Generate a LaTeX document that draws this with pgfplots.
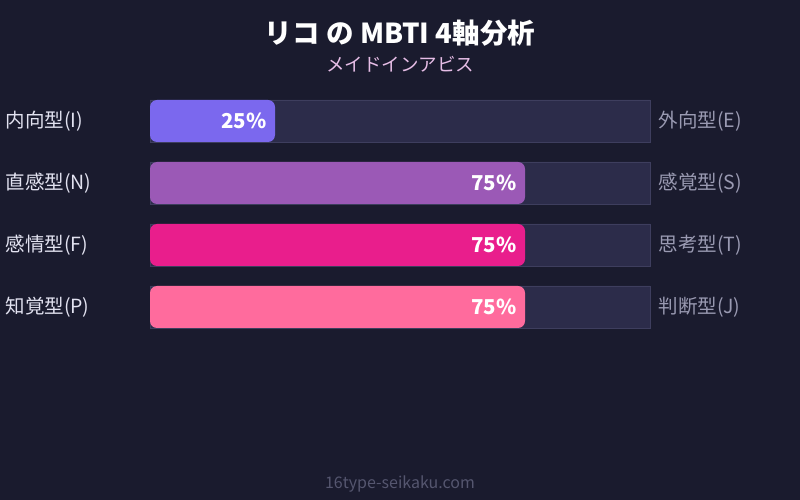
\documentclass[border=0pt]{standalone}
\usepackage{fontspec}
\setmainfont{Noto Sans CJK JP}
\usepackage{pgfplots}
\pgfplotsset{compat=1.18}

\definecolor{bg}{HTML}{1A1B2E}
\definecolor{track}{HTML}{2C2C4A}
\definecolor{trackline}{HTML}{3E3E5E}
\definecolor{cIE}{HTML}{7B68EE}
\definecolor{cNS}{HTML}{9B59B6}
\definecolor{cFT}{HTML}{E91E8C}
\definecolor{cPJ}{HTML}{FF6B9D}
\definecolor{lefttxt}{HTML}{E2E2F0}
\definecolor{righttxt}{HTML}{9A9AB2}
\definecolor{subtxt}{HTML}{E6BDE6}
\definecolor{foot}{HTML}{55566F}

\pgfplotsset{
  valbar/.style={bar shift=0pt, fill=#1, draw=none, rounded corners=7pt,
    point meta=x,
    nodes near coords={\pgfmathprintnumber[assume math mode=true]{\pgfplotspointmeta}\%},
    every node near coord/.append style={anchor=east, xshift=-5pt,
        text=white, font=\bfseries\fontsize{20.5}{22}\selectfont}},
}
\tikzset{
  pole/.style={anchor=west, text=righttxt, xshift=5pt,
    font=\fontsize{19.5}{21}\selectfont},
}

\begin{document}
\begin{tikzpicture}
% background, 800 x 500
\fill[bg] (0pt,0pt) rectangle (800pt,500pt);

% titles and footer
\node[text=white, font=\bfseries\fontsize{27.5}{30}\selectfont] at (400pt,467pt) {リコ の MBTI 4軸分析};
\node[text=subtxt, font=\fontsize{18.5}{21}\selectfont] at (400pt,436pt) {メイドインアビス};
\node[text=foot, font=\fontsize{16}{18}\selectfont] at (400pt,16pt) {16type-seikaku.com};

\begin{axis}[
    at={(150pt,162pt)}, anchor=south west,
    scale only axis, width=500pt, height=248pt,
    xbar, bar width=42pt,
    xmin=0, xmax=100, ymin=-0.5, ymax=3.5,
    y dir=reverse,
    axis line style={draw=none},
    major tick length=0pt,
    xtick=\empty,
    ytick={0,1,2,3},
    yticklabels={内向型(I),直感型(N),感情型(F),知覚型(P)},
    yticklabel style={anchor=west, xshift=-148pt, text=lefttxt,
        font=\fontsize{19.5}{21}\selectfont},
    clip=false,
]
% tracks
\addplot[bar shift=0pt, fill=track, draw=trackline, line width=0.8pt]
  coordinates {(100,0) (100,1) (100,2) (100,3)};
% values
\addplot[valbar=cIE] coordinates {(25,0)};
\addplot[valbar=cNS] coordinates {(75,1)};
\addplot[valbar=cFT] coordinates {(75,2)};
\addplot[valbar=cPJ] coordinates {(75,3)};

% opposite poles
\node[pole] at (axis cs:100,0) {外向型(E)};
\node[pole] at (axis cs:100,1) {感覚型(S)};
\node[pole] at (axis cs:100,2) {思考型(T)};
\node[pole] at (axis cs:100,3) {判断型(J)};
\end{axis}
\end{tikzpicture}
\end{document}
